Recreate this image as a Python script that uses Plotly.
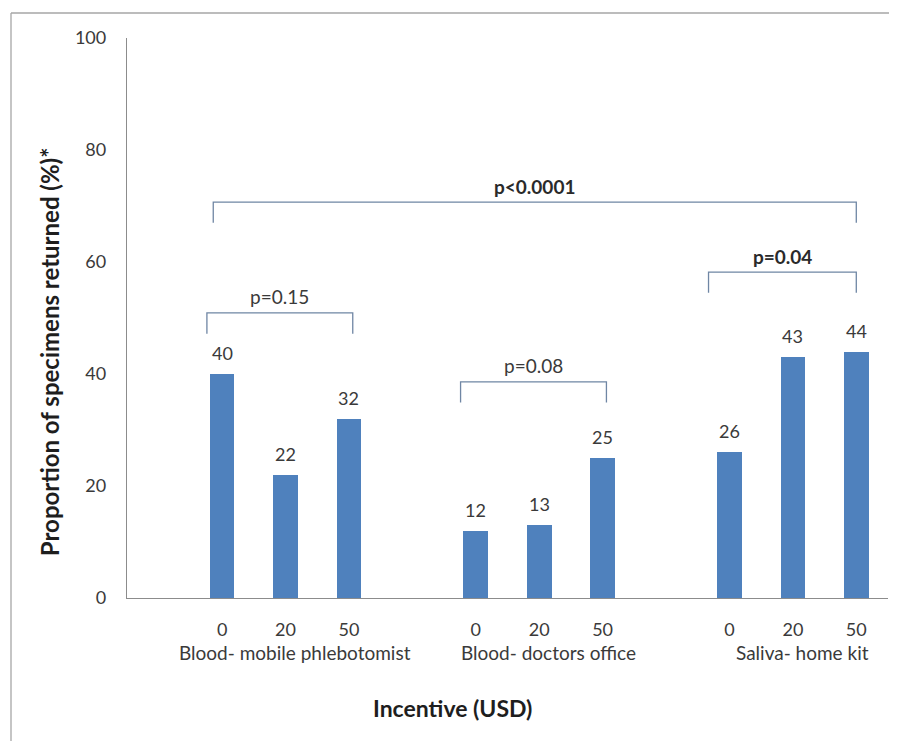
import plotly.graph_objects as go

# ---- data ----
groups = ["Blood- mobile phlebotomist", "Blood- doctors office", "Saliva- home kit"]
incentives = ["0", "20", "50"]
returned = [
    [40, 22, 32],
    [12, 13, 25],
    [26, 43, 44],
]
# comparison brackets
bracket_labels = ["p=0.15", "p=0.08", "p=0.04", "p<0.0001"]
bracket_from = [0, 1, 2, 0]       # group index of left end
bracket_to = [0, 1, 2, 2]         # group index of right end
bracket_height = [50.9, 38.6, 58.2, 70.7]
bracket_bold = [False, False, True, True]

SLOTS_PER_GROUP = 4
BAR_COLOR = "#4f81bd"
LINE_COLOR = "#6f86a4"
TEXT = "#3a3a3a"
FONT = "Lato"

# page has an 8px body margin, so the figure is drawn a bit smaller to avoid scrollbars
W, H = 881, 733
ML, MR, MT, MB = 119, 1, 30, 143
PW, PH = W - ML - MR, H - MT - MB

xs, ys, labels = [], [], []
for g, vals in enumerate(returned):
    for j, v in enumerate(vals):
        xs.append(g * SLOTS_PER_GROUP + 1 + j)
        ys.append(v)
        labels.append(incentives[j])

fig = go.Figure()
fig.add_trace(go.Bar(
    x=xs, y=ys, width=0.39, marker=dict(color=BAR_COLOR, line=dict(width=0)),
    hoverinfo="skip",
))

shapes = []
annotations = []
# value labels
for x, v in zip(xs, ys):
    annotations.append(dict(x=x, y=v, xref="x", yref="y", text=str(v), showarrow=False,
                            yanchor="middle", yshift=21,
                            font=dict(family=FONT, size=18, color=TEXT)))

# brackets
for lab, a, b, bold, h in zip(bracket_labels, bracket_from, bracket_to, bracket_bold, bracket_height):
    x0 = a * SLOTS_PER_GROUP + 1 - 0.24
    x1 = b * SLOTS_PER_GROUP + 3 + 0.06
    if lab == "p<0.0001":
        x0 = a * SLOTS_PER_GROUP + 1 - 0.14
    if bold:
        x1 = b * SLOTS_PER_GROUP + 3 + 0.0
    if lab == "p=0.04":
        x0 = a * SLOTS_PER_GROUP + 1 - 0.33
    drop = 3.7
    shapes.append(dict(type="path", xref="x", yref="y",
                       path=f"M {x0},{h - drop} L {x0},{h} L {x1},{h} L {x1},{h - drop}",
                       line=dict(color=LINE_COLOR, width=1.3)))
    txt = f"<b>{lab}</b>" if bold else lab
    annotations.append(dict(x=(x0 + x1) / 2, y=h, xref="x", yref="y", text=txt,
                            showarrow=False, yanchor="middle", yshift=16,
                            font=dict(family=FONT, size=19, color=TEXT if not bold else "#2a2a2a")))

# group labels
for g, name in enumerate(groups):
    annotations.append(dict(x=g * SLOTS_PER_GROUP + 2 + 0.15, y=0, xref="x", yref="paper",
                            text=name, showarrow=False, yanchor="middle", yshift=-54,
                            font=dict(family=FONT, size=19, color=TEXT)))

# axis titles
annotations.append(dict(x=0.428, y=0, xref="paper", yref="paper", text="<b>Incentive (USD)</b>",
                        showarrow=False, yanchor="middle", yshift=-110,
                        font=dict(family=FONT, size=23, color="#1e1e1e")))
annotations.append(dict(x=0, y=0.439, xref="paper", yref="paper",
                        text="<b>Proportion of specimens returned (%)*</b>",
                        showarrow=False, textangle=-90, xanchor="center", yanchor="middle",
                        xshift=-78,
                        font=dict(family=FONT, size=24, color="#1e1e1e")))

# outer frame (left and top edges)
fx = (3 - ML) / PW
fy = (MT + PH - 5) / PH
shapes.append(dict(type="line", xref="paper", yref="paper", x0=fx, x1=fx,
                   y0=fy, y1=-0.4, line=dict(color="#a6a6a6", width=1.3)))
shapes.append(dict(type="line", xref="paper", yref="paper", x0=fx, x1=1.2,
                   y0=fy, y1=fy, line=dict(color="#a6a6a6", width=1.3)))

fig.update_layout(
    width=W, height=H,
    margin=dict(l=ML, r=MR, t=MT, b=MB),
    paper_bgcolor="white", plot_bgcolor="white",
    showlegend=False, bargap=0,
    shapes=shapes, annotations=annotations,
    font=dict(family=FONT, color=TEXT),
)
fig.update_xaxes(
    range=[-0.5, 11.5], tickvals=xs, ticktext=labels, showgrid=False, zeroline=False,
    showline=True, linecolor="#8c8c8c", linewidth=1.3, ticks="",
    tickfont=dict(family=FONT, size=18, color=TEXT), ticklabelstandoff=15,
)
fig.update_yaxes(
    range=[0, 100], dtick=20, showgrid=False, zeroline=False,
    showline=True, linecolor="#8c8c8c", linewidth=1.3, ticks="",
    tickfont=dict(family=FONT, size=18, color=TEXT), ticklabelstandoff=16,
)

fig.write_html("out.html")
